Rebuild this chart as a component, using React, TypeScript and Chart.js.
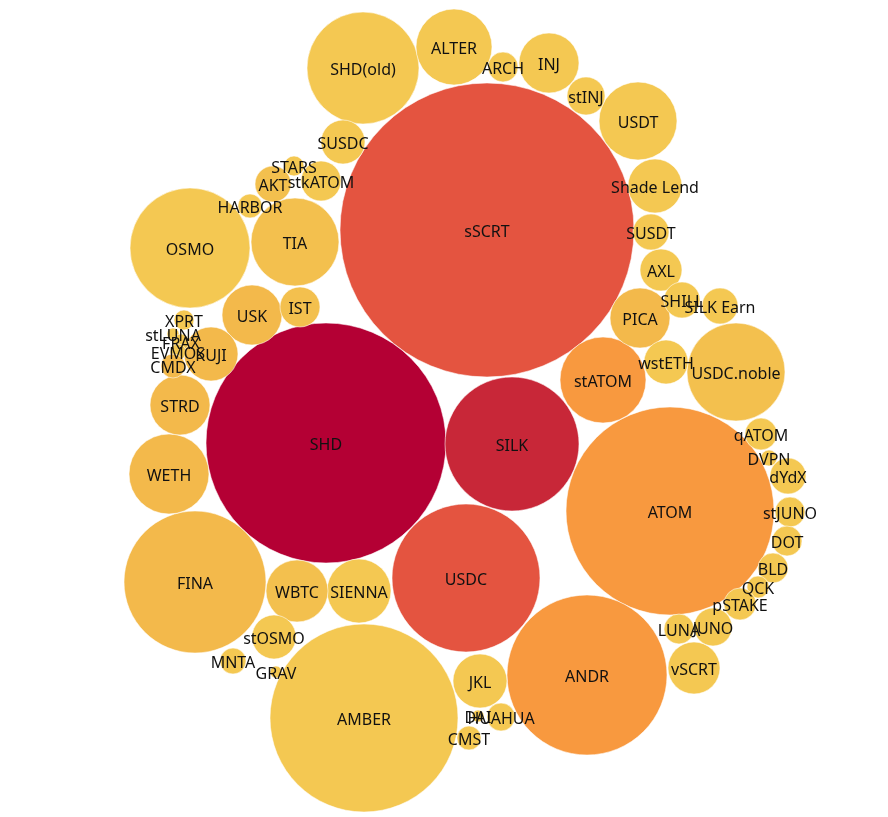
import React, { useEffect, useRef } from "react";
import { Chart, registerables } from "chart.js";

Chart.register(...registerables);

// Token names
const names = [
  "sSCRT", "SHD", "SILK", "USDC", "ATOM", "ANDR", "AMBER", "FINA", "OSMO", "SHD(old)",
  "USDC.noble", "stATOM", "TIA", "WETH", "USDT", "ALTER", "PICA", "SIENNA", "WBTC", "USK",
  "STRD", "INJ", "JKL", "Shade Lend", "vSCRT", "KUJI", "stOSMO", "wstETH", "AXL", "IST",
  "SUSDC", "stkATOM", "AKT", "STARS", "HARBOR", "SUSDT", "SHILL", "SILK Earn", "ARCH", "stINJ",
  "qATOM", "DVPN", "dYdX", "stJUNO", "DOT", "BLD", "QCK", "pSTAKE", "JUNO", "LUNA",
  "DAI", "HUAHUA", "CMST", "MNTA", "GRAV", "XPRT", "stLUNA", "FRAX", "EVMOS", "CMDX",
];

// Packed-layout positions (layout units)
const packX = [
  487, 326, 512, 466, 670, 587, 364, 195, 190, 363,
  736, 603, 295, 169, 638, 454, 640, 359, 297, 252,
  180, 549, 480, 655, 694, 211, 274, 666, 661, 300,
  343, 321, 273, 294, 250, 651, 682, 720, 503, 586,
  761, 769, 788, 790, 787, 773, 758, 740, 713, 679,
  478, 501, 469, 233, 276, 184, 173, 181, 178, 173,
];
const packY = [
  230, 443, 444, 578, 511, 675, 718, 582, 248, 68,
  372, 380, 242, 474, 121, 47, 318, 591, 591, 315,
  405, 63, 681, 186, 668, 354, 637, 362, 270, 307,
  142, 181, 184, 166, 206, 232, 300, 306, 67, 96,
  434, 458, 476, 512, 541, 568, 587, 604, 627, 629,
  716, 717, 738, 661, 672, 320, 334, 342, 352, 366,
];
// Bubble size (radius units)
const sizes = [
  147, 120, 67, 74, 104, 80, 94, 71, 60, 56,
  49, 43, 44, 40, 39, 38, 30, 32, 31, 30,
  30, 30, 27, 27, 26, 27, 22, 22, 21, 20,
  22, 20, 18, 10, 12, 18, 18, 18, 15, 19,
  16, 8, 18, 15, 15, 15, 11, 16, 19, 15,
  6, 14, 12, 13, 6, 10, 6, 8, 8, 12,
];
// Colour level (0 = gold ... 6 = dark crimson)
const levels = [
  4, 6, 5, 4, 3, 3, 0, 2, 0, 0,
  1, 3, 1, 2, 0, 0, 2, 0, 1, 2,
  2, 0, 0, 0, 0, 2, 0, 0, 0, 1,
  0, 0, 1, 0, 0, 0, 0, 0, 0, 0,
  0, 0, 0, 0, 0, 0, 0, 0, 0, 0,
  0, 0, 0, 0, 0, 0, 0, 0, 0, 2,
];

const palette = ["#F4C852", "#F3C04E", "#F3B94B", "#F8993F", "#E45440", "#C82738", "#B40034"];

export default function App() {
  const ref = useRef<HTMLCanvasElement | null>(null);
  useEffect(() => {
    if (!ref.current) return;
    const data = names.map((n, i) => ({ x: packX[i], y: packY[i], r: sizes[i] }));
    const labelPlugin = {
      id: "bubbleLabels",
      afterDatasetsDraw(chart: any) {
        const ctx = chart.ctx;
        const xs = chart.scales.x;
        const ys = chart.scales.y;
        ctx.save();
        ctx.font = '16px "Noto Sans"';
        ctx.fillStyle = "#111";
        ctx.textAlign = "center";
        ctx.textBaseline = "middle";
        names.forEach((n, i) => {
          ctx.fillText(n, xs.getPixelForValue(packX[i]), ys.getPixelForValue(packY[i]) + 2);
        });
        ctx.restore();
      },
    };
    const chart = new Chart(ref.current, {
      type: "bubble",
      data: {
        datasets: [
          {
            data,
            backgroundColor: levels.map((l) => palette[l]),
            borderColor: "rgba(255,255,255,0.55)",
            borderWidth: 1,
            hoverRadius: 0,
          },
        ],
      },
      options: {
        responsive: false,
        animation: false,
        layout: { padding: 0, autoPadding: false },
        clip: false as any,
        scales: {
          x: { type: "linear", min: 0, max: 888, display: false },
          y: { type: "linear", min: 0, max: 817, reverse: true, display: false },
        },
        plugins: { legend: { display: false }, tooltip: { enabled: false } },
      },
      plugins: [labelPlugin],
    });
    return () => chart.destroy();
  }, []);
  return (
    <div style={{ position: "absolute", left: 0, top: 0, width: 888, height: 817, background: "#fff" }}>
      <canvas ref={ref} width={888} height={817} />
    </div>
  );
}
